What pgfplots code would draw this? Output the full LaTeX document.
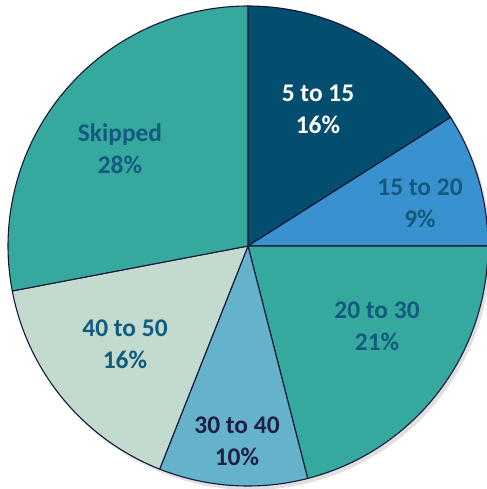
\documentclass[border=0pt]{standalone}
\usepackage{pgfplots}
\pgfplotsset{compat=1.18}
\usepackage{fontspec}
\setmainfont{Carlito}
\definecolor{cA}{HTML}{034E6E}
\definecolor{cB}{HTML}{3A91CF}
\definecolor{cC}{HTML}{36A99E}
\definecolor{cD}{HTML}{65B2CB}
\definecolor{cE}{HTML}{C3DBCE}
\definecolor{cF}{HTML}{36A99E}
\definecolor{edge}{HTML}{16163A}
\definecolor{lbl}{HTML}{125A7E}
\definecolor{lbldark}{HTML}{1E1E48}
% shares in percent, clockwise from 12 o'clock
% 5 to 15: 16, 15 to 20: 9, 20 to 30: 21, 30 to 40: 10, 40 to 50: 16, Skipped: 28
\newcommand{\slice}[3]{% start cum %, share %, colour
  \addplot[fill=#3, draw=edge, line width=1.1pt, line join=round, domain={90-3.6*(#1+#2)}:{90-3.6*#1}, samples=80, variable=\t]
    ({240*cos(\t)},{240*sin(\t)}) -- (axis cs:0,0) -- cycle;%
}
\begin{document}
\begin{tikzpicture}
\begin{axis}[
  width=487bp, height=489bp, scale only axis,
  xmin=-248, xmax=239, ymin=-243, ymax=246,
  hide axis, clip=true,
]
\addplot[fill=black, opacity=0.12, draw=none, domain=0:360, samples=120, variable=\t]
  ({3+240*cos(\t)},{-4+240*sin(\t)}) -- cycle;
\slice{0}{16}{cA}
\slice{16}{9}{cB}
\slice{25}{21}{cC}
\slice{46}{10}{cD}
\slice{56}{16}{cE}
\slice{72}{28}{cF}
\begin{scope}[every node/.style={font=\fontsize{25.5}{32}\selectfont\bfseries, align=center}]
\node[text=white] at (axis cs:70,137) {5 to 15\\16\%};
\node[text=lbl] at (axis cs:172,43) {15 to 20\\9\%};
\node[text=lbl] at (axis cs:129,-80) {20 to 30\\21\%};
\node[text=lbldark] at (axis cs:-11,-195) {30 to 40\\10\%};
\node[text=lbl] at (axis cs:-123,-98) {40 to 50\\16\%};
\node[text=lbl] at (axis cs:-128,97) {Skipped\\28\%};
\end{scope}
\end{axis}
\pgfresetboundingbox
\useasboundingbox (current axis.south west) rectangle (current axis.north east);
\end{tikzpicture}
\end{document}
